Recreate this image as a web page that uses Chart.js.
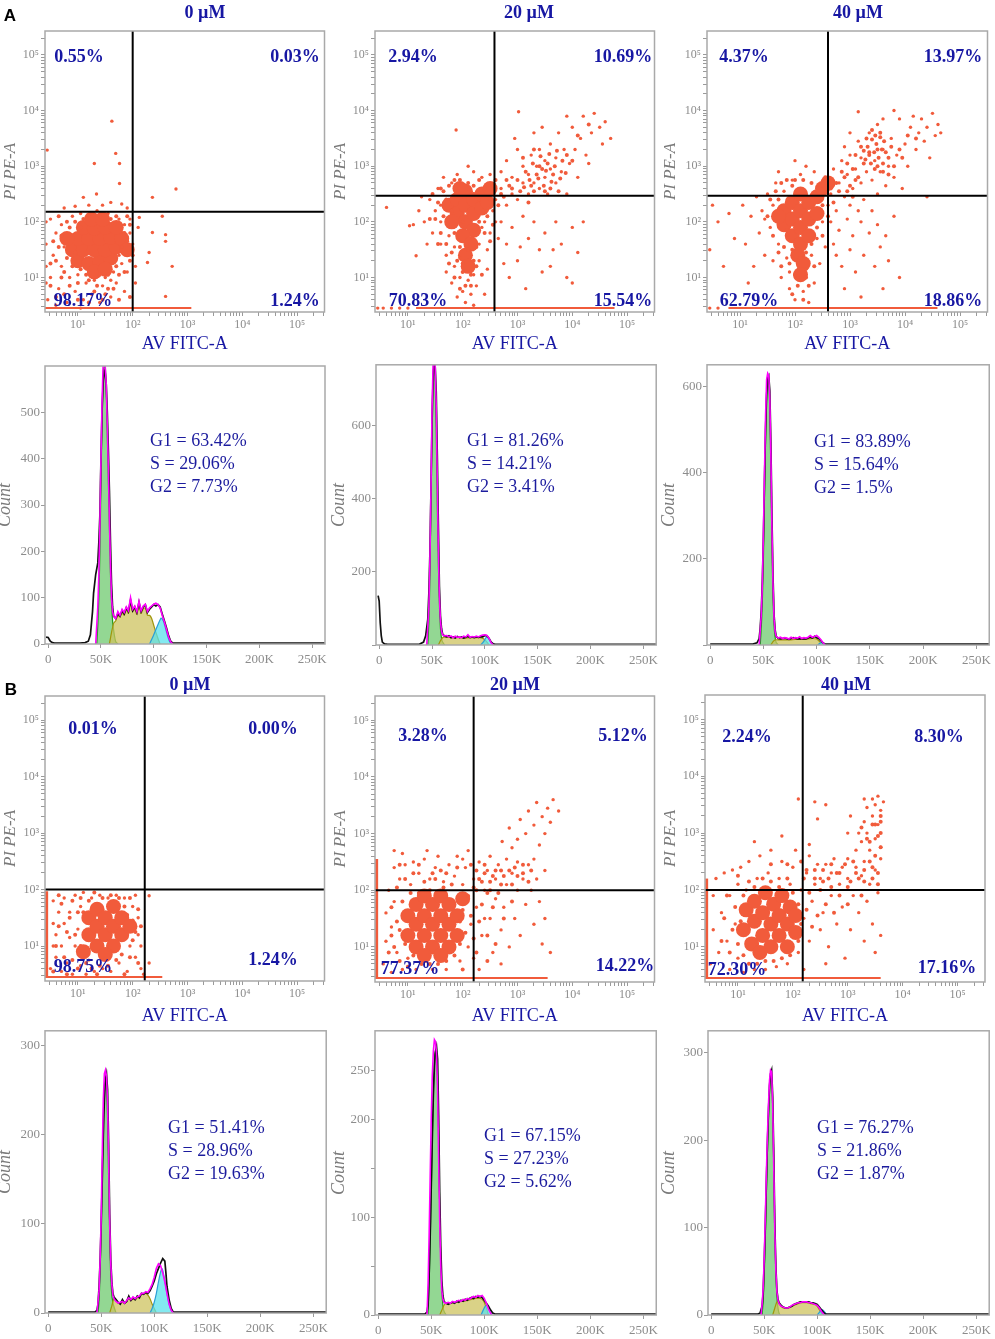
<!DOCTYPE html>
<html>
<head>
<meta charset="utf-8">
<script src="https://cdn.jsdelivr.net/npm/chart.js@4.4.1/dist/chart.umd.min.js"></script>
<style>
  body { margin: 0; background: #fff; width: 995px; height: 1339px; position: relative; overflow: hidden; }
  canvas { position: absolute; }
  .t { position: absolute; transform: translate(-50%, -50%); white-space: nowrap; line-height: 1;
       font-family: 'Liberation Serif', 'Times New Roman', serif; color: #1717a3; }
  .q { font-weight: bold; font-size: 18px; }
  .ph { transform: translate(0, -50%); font-size: 18px; color: #1c1c9e; }
  .tag { font-family: 'Liberation Sans', Arial, sans-serif; font-weight: bold; font-size: 17px; color: #000; }
</style>
</head>
<body>
<script>
const serif = "'Liberation Serif', 'Times New Roman', serif"

// ---------- axis ranges / tick labels ----------
const logRangeX = [0.4, 5.5]
const logRangeY = [0.38, 5.43]
const decadeValues = [10, 100, 1000, 10000, 100000]
const decadeLabels = ['10¹', '10²', '10³', '10⁴', '10⁵']
const minorSteps = [1, 2, 3, 4, 5, 6, 7, 8, 9]
const dnaRange = [-3000, 262144]
const dnaTicks = [0, 50000, 100000, 150000, 200000, 250000]
const dnaTickLabels = ['0', '50K', '100K', '150K', '200K', '250K']

// ---------- titles / labels ----------
const doses = ['0 µM', '20 µM', '40 µM']
const a0Quad = ['0.55%', '0.03%', '98.17%', '1.24%']
const a20Quad = ['2.94%', '10.69%', '70.83%', '15.54%']
const a40Quad = ['4.37%', '13.97%', '62.79%', '18.86%']
const b0Quad = ['0.01%', '0.00%', '98.75%', '1.24%']
const b20Quad = ['3.28%', '5.12%', '77.37%', '14.22%']
const b40Quad = ['2.24%', '8.30%', '72.30%', '17.16%']
const a0Phase = ['G1 = 63.42%', 'S = 29.06%', 'G2 = 7.73%']
const a20Phase = ['G1 = 81.26%', 'S = 14.21%', 'G2 = 3.41%']
const a40Phase = ['G1 = 83.89%', 'S = 15.64%', 'G2 = 1.5%']
const b0Phase = ['G1 = 51.41%', 'S = 28.96%', 'G2 = 19.63%']
const b20Phase = ['G1 = 67.15%', 'S = 27.23%', 'G2 = 5.62%']
const b40Phase = ['G1 = 76.27%', 'S = 21.86%', 'G2 = 1.87%']

// ---------- annexin / PI events, log10 units [AV, PI] ----------
const a0Gate = [2.0, 2.18]
const a0Floor = [0.4, 3.07]
const a0Core = [[1.0,1.3],[1.2,1.25],[1.4,1.3],[1.6,1.35],[0.9,1.5],[1.1,1.5],[1.3,1.5],[1.5,1.5],[1.7,1.55],[1.0,1.7],[1.2,1.7],[1.4,1.7],[1.6,1.72],[1.8,1.7],[1.1,1.9],[1.3,1.88],[1.5,1.9],[1.7,1.9],[1.25,2.05],[1.45,2.05],[1.3,1.1],[1.5,1.15],[0.8,1.7],[1.9,1.5]]
const a0Halo = [[0.6,1.3],[0.65,1.55],[0.7,1.75],[0.75,1.1],[0.8,1.35],[0.85,1.9],[0.85,0.85],[0.9,1.2],[0.95,2.0],[1.0,0.9],[1.05,1.15],[1.1,2.05],[1.15,1.05],[1.2,0.95],[1.25,2.15],[1.35,0.85],[1.4,1.05],[1.4,2.1],[1.55,0.8],[1.55,1.05],[1.6,2.05],[1.7,1.2],[1.7,2.1],[1.75,1.05],[1.8,1.55],[1.85,1.8],[1.85,1.1],[1.9,1.65],[1.95,1.3],[1.95,1.95],[2.0,1.4],[1.65,0.8],[1.5,0.7],[1.3,0.75],[1.0,0.6],[0.8,2.0],[0.65,2.1],[0.55,1.65],[0.5,1.25],[0.5,0.85],[0.95,1.45],[1.05,1.9],[0.7,1.0],[0.75,0.7],[1.2,0.55],[1.75,0.6],[1.95,0.65],[1.9,2.1],[0.6,0.65],[1.45,0.6]]
const a0Dots = [[0.45,0.6],[0.5,1.0],[0.55,1.4],[0.6,1.8],[0.5,2.05],[0.65,0.8],[0.7,1.2],[0.75,1.55],[0.7,1.95],[0.8,0.55],[0.85,1.0],[0.9,2.1],[0.95,0.75],[1.0,1.05],[1.05,2.15],[1.1,0.6],[1.15,0.9],[1.2,2.1],[1.25,0.7],[1.3,0.95],[1.35,2.2],[1.4,0.55],[1.45,0.85],[1.5,1.0],[1.55,2.15],[1.6,0.65],[1.65,1.1],[1.7,0.9],[1.75,2.05],[1.8,1.25],[1.85,0.75],[1.9,1.1],[1.95,1.8],[1.95,2.05],[1.85,1.95],[1.9,1.4],[2.0,1.6],[1.75,1.4],[1.6,0.95],[1.05,0.45],[0.6,0.5],[0.42,1.2],[0.42,1.6],[0.42,0.9],[0.42,2.0],
  [1.62,3.81],[1.69,3.23],[1.76,3.05],[1.3,3.05],[1.76,2.69],[0.44,3.29],[2.79,2.59],[2.36,2.44],[1.1,2.44],[1.34,2.5],[2.54,2.1],[2.12,2.08],[2.36,1.81],[2.6,1.77],[2.6,1.65],[2.3,1.45],[2.27,1.27],[2.72,1.2],[2.6,0.66],[1.45,2.3],[1.6,2.35],[1.8,2.32],[0.95,2.28],[0.75,2.25],[1.2,2.3],[1.9,2.25],[2.1,1.9],[2.05,1.2],[2.05,0.9]]

const a20Gate = [2.58, 2.47]
const a20Floor = [1.15, 4.77]
const a20Core = [[1.75,2.3],[1.9,2.15],[1.9,2.4],[2.05,2.0],[2.05,2.3],[2.05,2.55],[2.2,2.15],[2.2,2.4],[2.35,2.25],[2.35,2.5],[1.8,2.0],[2.2,1.85],[2.0,1.75],[2.15,1.6],[2.05,1.4],[2.1,1.2],[2.45,2.35],[1.95,2.6],[2.5,2.6]]
const a20Halo = [[1.5,2.05],[1.55,2.35],[1.6,1.8],[1.65,2.55],[1.65,2.1],[1.7,1.6],[1.7,2.4],[1.75,1.25],[1.75,2.65],[1.8,1.45],[1.8,2.2],[1.85,1.8],[1.85,2.75],[1.9,1.3],[1.95,1.55],[1.95,2.75],[2.0,1.1],[2.0,2.0],[2.05,0.85],[2.1,1.5],[2.1,2.7],[2.15,1.05],[2.2,1.3],[2.2,2.65],[2.25,1.55],[2.3,2.0],[2.3,2.75],[2.35,1.05],[2.4,1.8],[2.4,2.6],[2.45,2.1],[2.5,1.65],[2.5,2.4],[2.55,2.65],[2.55,1.95],[1.95,0.8],[2.15,0.85],[2.25,1.2],[1.85,1.0],[2.0,1.25],[1.6,2.6],[1.45,2.5],[1.4,2.05],[1.55,1.6],[2.6,2.75],[2.65,2.3],[2.75,2.45],[2.85,2.65],[3.05,2.55],[3.25,2.65],[3.35,2.85],[3.45,2.95],[3.55,3.05],[3.65,2.85],[3.3,3.3],[3.4,3.0],[3.15,2.9],[3.6,2.6],[3.2,2.35],
  [3.22,2.75],[3.28,3.05],[3.38,2.78],[3.42,3.18],[3.48,2.65],[3.52,2.92],[3.58,3.22],[3.62,2.72],[3.68,3.0],[3.72,3.28],[3.78,2.78],[3.82,3.1],[3.88,2.88],[3.3,2.55],[3.5,2.55],[3.75,2.55],[3.12,2.62],[3.0,2.75],[2.9,2.6],[2.8,2.75],[2.7,2.5],[3.1,3.15],[3.9,3.2],[4.0,3.1],[4.1,3.55],[4.3,3.75]]
const a20Dots = [[1.2,2.2],[1.3,2.0],[1.4,2.4],[1.45,1.8],[1.5,2.2],[1.55,2.6],[1.6,1.6],[1.6,2.0],[1.65,2.8],[1.7,1.4],[1.75,1.75],[1.8,2.7],[1.85,1.2],[1.85,1.55],[1.9,2.85],[1.95,1.0],[2.0,0.75],[2.05,0.55],[2.1,0.95],[2.15,0.7],[2.2,1.05],[2.25,0.85],[2.3,1.3],[2.3,1.6],[2.35,1.9],[2.4,2.0],[2.45,1.5],[2.5,1.8],[2.55,2.2],[2.5,2.85],[2.35,2.8],[2.2,2.9],[2.1,3.0],[1.95,1.35],[1.8,0.9],[1.7,1.1],[1.9,0.65],[2.2,0.5],[2.4,0.7],[2.45,1.15],[1.35,1.6],[1.25,2.45],[1.1,1.95],[1.03,1.93],[1.15,1.39],[0.61,2.26],[1.88,3.65],[1.6,2.3],[2.6,2.0],[2.65,1.7],
  [2.6,2.4],[2.7,2.6],[2.7,2.9],[2.8,2.3],[2.8,3.1],[2.9,2.5],[2.9,2.8],[3.0,3.3],[3.0,2.4],[3.1,2.7],[3.1,3.0],[3.2,2.5],[3.2,2.85],[3.25,3.2],[3.3,2.7],[3.35,3.0],[3.4,2.6],[3.4,3.3],[3.5,2.8],[3.5,3.1],[3.55,2.5],[3.6,3.4],[3.6,2.95],[3.7,2.7],[3.7,3.15],[3.75,3.6],[3.8,2.9],[3.85,3.3],[3.9,2.5],[3.95,3.05],[4.0,3.7],[4.05,3.3],[4.1,2.8],[4.15,3.5],[4.2,3.9],[4.25,3.2],[4.35,3.6],[4.4,3.95],[4.5,3.7],[4.55,3.4],[4.6,3.8],[4.7,3.5],[3.02,3.98],[3.3,3.6],[2.95,3.5],[3.45,3.7],[3.9,3.9],[4.3,3.05],
  [2.7,2.0],[2.8,1.6],[2.9,1.9],[3.0,1.3],[3.1,2.1],[3.2,1.7],[3.3,2.0],[3.4,1.5],[3.5,1.8],[3.6,1.2],[3.7,2.0],[3.8,1.6],[3.9,1.0],[4.0,1.9],[4.1,1.45],[2.85,1.0],[3.15,0.8],[3.45,1.1],[3.05,1.55],[2.75,1.25],[3.65,1.5],[4.0,0.9],[4.2,2.0],
  [0.45,0.45],[0.55,0.45],[0.7,0.45],[0.85,0.45],[1.0,0.45]]

const a40Gate = [2.6, 2.47]
const a40Floor = [0.79, 4.59]
const a40Core = [[1.8,2.2],[1.8,1.95],[1.95,2.35],[1.95,2.05],[1.95,1.75],[2.1,2.5],[2.1,2.2],[2.1,1.9],[2.1,1.6],[2.25,2.35],[2.25,2.05],[2.25,1.75],[2.4,2.45],[2.4,2.15],[2.5,2.6],[2.05,1.4],[2.15,1.25],[2.1,1.05],[2.6,2.7],[1.7,2.1]]
const a40Halo = [[1.5,2.1],[1.55,2.4],[1.6,1.75],[1.65,2.55],[1.65,2.15],[1.7,1.45],[1.7,2.4],[1.75,1.2],[1.75,2.7],[1.8,1.55],[1.85,1.85],[1.85,2.75],[1.9,1.25],[1.95,1.5],[1.95,2.65],[2.0,1.05],[2.0,2.75],[2.05,0.85],[2.1,1.35],[2.15,2.75],[2.2,1.0],[2.2,1.45],[2.25,0.85],[2.3,1.6],[2.3,2.7],[2.35,1.2],[2.4,1.9],[2.45,2.65],[2.5,1.75],[2.5,2.3],[2.55,2.8],[2.6,2.1],[2.65,2.6],[2.7,2.35],[2.8,2.55],[2.9,2.8],[3.0,2.65],[3.05,2.95],[3.15,2.8],[3.2,3.35],[3.25,3.05],[3.3,3.5],[3.35,3.25],[3.4,3.65],[3.45,2.95],[3.5,3.3],[3.55,3.6],[3.6,3.05],[3.65,3.25],[3.7,2.85],[3.75,3.35],[3.1,3.2],[2.95,3.05],[2.85,2.9],[1.95,0.7],[2.15,0.6],
  [3.28,3.12],[3.32,3.35],[3.38,3.05],[3.4,3.48],[3.44,3.25],[3.48,3.4],[3.52,3.15],[3.55,3.52],[3.58,3.3],[3.62,3.45],[3.35,3.2],[3.46,3.55],[3.25,3.28],[3.5,3.0],[3.6,2.9],[3.7,3.15],[3.8,3.0],[3.9,3.3],[3.95,3.15],[4.05,3.55],[4.2,3.5],[3.1,2.75],[2.95,2.55],[2.75,2.7],[3.05,2.45]]
const a40Dots = [[0.5,2.3],[0.45,1.5],[0.6,2.0],[0.8,2.15],[0.9,1.7],[1.05,2.3],[1.1,1.6],[1.2,2.1],[1.25,1.2],[1.3,2.45],[1.35,1.8],[1.4,2.2],[1.45,1.4],[1.5,2.5],[1.55,1.9],[1.6,1.3],[1.6,2.3],[1.65,2.7],[1.7,1.6],[1.75,1.0],[1.8,2.55],[1.85,1.35],[1.9,0.8],[1.95,2.75],[2.0,0.6],[2.05,1.0],[2.1,2.85],[2.15,0.75],[2.2,1.15],[2.25,0.55],[2.3,1.4],[2.35,0.9],[2.4,1.7],[2.45,1.25],[2.5,2.0],[2.55,1.55],[2.2,3.0],[2.35,2.9],[1.9,1.1],[1.7,2.9],[1.45,2.05],[2.0,3.1],[0.7,1.2],[1.15,0.9],
  [2.6,2.3],[2.65,2.5],[2.7,2.95],[2.75,2.2],[2.8,2.7],[2.85,3.1],[2.9,2.45],[2.95,2.85],[3.0,2.3],[3.0,3.2],[3.05,2.6],[3.1,2.95],[3.15,3.45],[3.2,2.7],[3.2,3.15],[3.25,2.4],[3.3,2.9],[3.35,3.6],[3.4,2.75],[3.45,3.1],[3.5,3.75],[3.5,2.5],[3.55,2.9],[3.6,3.3],[3.65,2.65],[3.7,3.0],[3.75,3.5],[3.8,2.8],[3.85,3.2],[3.9,3.85],[3.95,2.6],[4.0,3.4],[4.05,3.0],[4.1,3.7],[4.15,3.9],[4.2,3.3],[4.25,3.6],[4.3,3.85],[4.35,3.45],[4.4,3.7],[4.5,3.95],[4.55,3.55],[4.6,3.75],[4.65,3.6],[3.15,3.98],[3.6,3.85],[3.0,3.6],[2.9,3.35],[3.8,4.0],[4.45,3.15],[4.4,2.45],
  [2.65,2.0],[2.7,1.6],[2.8,1.85],[2.85,1.2],[2.95,2.05],[3.0,1.5],[3.05,1.75],[3.1,1.1],[3.2,2.0],[3.25,1.4],[3.35,1.8],[3.45,1.2],[3.5,1.95],[3.55,1.55],[3.65,1.75],[3.7,1.3],[2.9,0.8],[3.2,0.65],[3.6,0.8],[3.9,1.0],[2.75,1.4],[3.4,2.2],[3.8,2.1],[3.15,2.2],
  [0.45,0.45],[0.6,0.45]]

const b0Gate = [2.22, 2.0]
const b0Floor = [0.4, 2.54]
const b0Edge = [0.45, 1.97]
const b0Core = [[1.2,1.2],[1.2,1.5],[1.35,1.0],[1.35,1.35],[1.35,1.65],[1.5,1.2],[1.5,1.5],[1.65,1.0],[1.65,1.35],[1.65,1.7],[1.8,1.2],[1.8,1.5],[1.95,1.35],[1.5,0.85],[1.1,0.9]]
const b0Halo = [[0.6,1.0],[0.65,1.35],[0.7,1.75],[0.75,0.8],[0.8,1.25],[0.85,1.5],[0.9,0.75],[0.9,1.8],[0.95,1.2],[1.0,1.6],[1.0,0.6],[1.05,1.85],[1.05,1.0],[1.1,1.6],[1.15,0.7],[1.2,1.8],[1.25,0.6],[1.3,1.95],[1.4,0.65],[1.45,1.85],[1.55,0.65],[1.6,1.9],[1.7,0.75],[1.75,1.85],[1.8,0.85],[1.85,1.7],[1.9,1.55],[1.95,0.8],[2.0,1.1],[2.0,1.45],[2.05,1.25],[2.1,1.65],[2.1,0.7],[2.15,1.35],[1.95,1.85],[0.55,0.55],[0.65,1.9],[0.8,0.5],[1.35,0.5],[1.85,0.5]]
const b0Dots = [[0.5,0.6],[0.55,1.0],[0.55,1.4],[0.55,1.8],[0.6,0.8],[0.6,1.2],[0.65,1.6],[0.7,0.55],[0.7,1.0],[0.75,1.4],[0.75,1.85],[0.8,0.7],[0.85,1.15],[0.85,1.6],[0.9,0.5],[0.95,1.0],[0.95,1.9],[1.0,1.3],[1.05,0.65],[1.05,1.7],[1.1,1.95],[1.15,0.5],[1.2,0.75],[1.25,1.85],[1.3,0.55],[1.4,1.9],[1.45,0.6],[1.55,1.85],[1.6,0.55],[1.7,1.9],[1.75,0.7],[1.85,1.85],[1.9,0.55],[1.95,1.0],[2.0,1.7],[2.05,0.8],[2.1,1.2],[2.1,1.5],[2.15,0.6],[2.05,1.9],[2.15,1.0],[2.3,1.89],[2.2,0.5],[2.3,0.7]]

const b20Gate = [2.2, 2.0]
const b20Floor = [0.4, 3.55]
const b20Edge = [0.45, 2.55]
const b20Core = [[1.0,1.2],[1.0,1.55],[1.15,1.0],[1.15,1.4],[1.15,1.75],[1.3,1.2],[1.3,1.55],[1.3,1.9],[1.45,1.0],[1.45,1.4],[1.45,1.75],[1.6,1.2],[1.6,1.55],[1.6,1.9],[1.75,1.0],[1.75,1.4],[1.75,1.75],[1.9,1.2],[1.9,1.55],[2.0,1.85],[1.3,0.85],[1.6,0.85]]
const b20Halo = [[0.65,0.9],[0.7,1.2],[0.7,1.7],[0.75,1.0],[0.8,1.45],[0.8,2.05],[0.85,0.75],[0.85,1.3],[0.9,1.8],[0.95,1.05],[0.95,2.2],[1.0,0.65],[1.05,1.95],[1.1,0.85],[1.1,2.3],[1.2,1.95],[1.25,0.7],[1.3,2.15],[1.4,0.7],[1.4,2.0],[1.5,2.2],[1.55,0.7],[1.65,2.05],[1.7,0.75],[1.8,2.1],[1.85,0.85],[1.95,1.05],[1.95,1.45],[2.0,1.65],[2.05,1.25],[2.1,1.9],[2.15,1.55],[2.2,1.15],[2.25,2.0],[2.3,1.45],[2.35,1.75],[2.4,2.3],[2.45,1.2],[2.5,2.0],[2.55,1.7],[2.6,2.35],[2.7,2.1],[2.75,1.5],[2.85,2.35],[2.9,1.8],[3.0,2.25],[3.1,2.45],[3.2,2.15],[1.6,2.35],[1.9,2.4],[2.15,2.45],[2.35,2.15],[2.65,1.95],[2.25,0.9],[2.45,0.75],[2.6,1.05],[2.0,0.6],[1.2,2.45],[0.85,2.45],
  [2.25,2.35],[2.4,2.45],[2.55,2.25],[2.7,2.35],[2.9,2.1],[2.95,2.4],[3.1,2.3],[3.25,2.35],[2.3,2.2],[2.5,2.15],[2.75,2.25],[2.2,2.05],[2.45,1.95],[1.7,2.3],[1.45,2.3]]
const b20Dots = [[0.55,0.7],[0.6,1.1],[0.6,1.6],[0.65,2.0],[0.7,0.55],[0.7,1.35],[0.75,1.8],[0.75,2.4],[0.8,0.9],[0.85,2.2],[0.9,0.6],[0.95,2.45],[1.0,0.8],[1.05,2.1],[1.1,2.5],[1.15,0.6],[1.2,2.3],[1.3,2.55],[1.4,2.2],[1.45,0.6],[1.5,2.4],[1.55,2.6],[1.65,2.15],[1.7,0.6],[1.75,2.45],[1.85,2.25],[1.9,2.6],[1.95,0.75],[2.0,2.1],[2.05,2.4],[2.1,1.0],[2.1,2.7],[2.15,1.4],[2.2,2.2],[2.25,1.7],[2.3,0.6],[2.3,2.5],[2.35,1.2],[2.4,2.0],[2.45,2.35],[2.5,1.5],[2.5,2.6],[2.55,0.9],[2.6,1.85],[2.6,2.2],[2.65,2.45],[2.7,1.3],[2.75,1.7],[2.8,2.1],[2.8,2.55],[2.85,1.0],[2.9,2.3],[2.95,1.5],[3.0,2.0],[3.0,2.5],[3.05,1.2],[3.1,2.2],[3.15,1.75],[3.2,2.45],[3.25,2.0],[3.3,1.4],[3.35,2.2],[3.4,1.8],[3.3,2.55],[3.5,1.5],[3.45,1.05],[3.6,0.9],[3.5,2.35],[2.2,0.8],[2.4,1.5],[2.7,0.7],[2.0,2.55],[1.35,2.7],[0.9,2.65],[0.75,2.7],
  [2.72,2.86],[2.85,3.1],[3.0,2.9],[3.05,3.25],[3.15,3.0],[3.2,3.4],[3.3,3.15],[3.35,3.55],[3.45,3.3],[3.5,3.0],[3.55,3.45],[3.6,3.2],[3.65,3.6],[3.75,3.4],[2.9,2.75],[3.4,2.8]]

const b40Gate = [2.18, 2.0]
const b40Floor = [0.4, 3.6]
const b40Edge = [0.45, 2.2]
const b40Core = [[1.1,1.3],[1.15,1.65],[1.25,1.05],[1.3,1.45],[1.3,1.8],[1.45,1.2],[1.45,1.6],[1.5,1.95],[1.6,1.0],[1.6,1.4],[1.65,1.75],[1.75,1.2],[1.75,1.55],[1.8,1.9],[1.9,1.0],[1.9,1.4],[1.95,1.7],[2.05,1.25],[2.05,1.55],[1.4,0.9]]
const b40Halo = [[0.7,1.1],[0.75,1.5],[0.8,1.9],[0.85,0.9],[0.9,1.3],[0.95,1.7],[1.0,1.05],[1.0,2.25],[1.05,1.45],[1.1,0.85],[1.1,1.9],[1.2,0.7],[1.2,2.15],[1.3,2.05],[1.35,0.7],[1.45,2.2],[1.5,0.75],[1.6,2.15],[1.65,0.75],[1.75,2.05],[1.8,0.8],[1.9,2.2],[1.95,0.85],[2.0,1.95],[2.1,1.1],[2.1,1.75],[2.15,1.4],[2.2,2.2],[2.25,1.65],[2.3,1.95],[2.35,1.35],[2.4,2.35],[2.45,1.55],[2.5,2.0],[2.55,2.35],[2.6,1.75],[2.65,2.2],[2.7,2.45],[2.75,1.6],[2.8,2.3],[2.85,1.9],[2.95,2.45],[3.0,1.75],[3.05,2.15],[3.1,2.5],[3.2,2.2],[3.25,1.9],[3.3,2.35],[3.4,2.5],[3.45,2.2],[3.5,2.6],[3.55,2.3],[3.35,2.9],[3.45,3.15],[3.55,2.95],[3.6,3.2],[3.25,3.1],[1.9,2.45],[1.6,2.45],[2.15,2.5],
  [2.25,2.35],[2.4,2.2],[2.55,2.15],[2.7,2.05],[2.85,2.3],[3.0,2.05],[3.15,2.3],[3.3,2.15],[3.45,2.4],[3.55,2.1],[3.6,2.75],[3.6,3.0],[3.6,3.3],[3.5,3.15],[3.4,2.85]]
const b40Dots = [[0.5,0.7],[0.55,1.3],[0.55,1.9],[0.6,2.2],[0.65,0.9],[0.7,1.6],[0.75,2.3],[0.8,1.1],[0.85,0.6],[0.85,1.9],[0.9,2.35],[0.95,1.4],[1.0,0.8],[1.0,2.1],[1.05,2.4],[1.1,0.55],[1.15,2.0],[1.2,2.5],[1.3,0.6],[1.35,2.2],[1.4,2.6],[1.5,0.6],[1.55,2.3],[1.6,2.7],[1.7,0.65],[1.75,2.2],[1.8,2.5],[1.9,0.7],[1.95,2.1],[2.0,2.4],[2.05,2.7],[2.1,0.9],[2.15,2.0],[2.2,1.5],[2.25,2.3],[2.3,1.1],[2.3,2.6],[2.35,1.8],[2.4,2.1],[2.45,2.45],[2.5,1.3],[2.5,2.2],[2.55,1.6],[2.6,2.45],[2.65,1.0],[2.7,1.9],[2.7,2.3],[2.75,2.55],[2.8,1.4],[2.85,2.1],[2.9,1.7],[2.9,2.4],[2.95,0.8],[3.0,2.2],[3.0,2.55],[3.05,1.3],[3.1,1.9],[3.15,2.4],[3.2,1.6],[3.25,2.25],[3.3,1.1],[3.3,2.5],[3.35,1.8],[3.4,2.1],[3.45,1.4],[3.5,2.35],[3.5,0.9],[3.55,1.95],[3.6,2.55],[3.6,1.2],[2.2,0.6],[2.6,0.7],[1.3,2.85],[1.8,2.95],[2.3,2.8],[2.45,3.25],
  [3.15,2.7],[3.2,3.0],[3.25,2.85],[3.3,3.2],[3.35,3.0],[3.35,3.45],[3.4,2.7],[3.45,3.3],[3.5,3.5],[3.5,2.9],[3.55,3.15],[3.6,3.4],[3.6,2.75],[3.65,3.55],[3.55,3.65],[3.45,3.6],[3.3,3.6],[3.05,3.3],[2.6,3.5],[2.1,3.6],[2.4,3.55],[3.0,3.0]]

// ---------- DNA content histograms, [PI-A in K, count] ----------
const hA0Total = [[-2,15],[0,14],[2,6],[4,3],[6,2],[15,2],[30,2],[35,3],[38,6],[40,20],[42,70],[43,110],[45,150],[47,175],[48,220],[49,280],[50,400],[51,500],[52,560],[53,590],[54,585],[55,560],[56,500],[57,420],[58,330],[59,220],[60,130],[61,80],[62,60],[64,55],[66,65],[68,60],[70,72],[72,65],[74,78],[76,70],[78,95],[80,72],[82,80],[84,68],[86,90],[88,70],[90,80],[92,85],[94,68],[96,75],[98,80],[100,85],[102,82],[104,85],[106,80],[108,65],[110,50],[112,35],[114,18],[116,6],[118,2],[262,2]]
const hA0Fit = [[45,0],[47,80],[48,150],[49,260],[50,400],[51,520],[52,600],[53,610],[54,600],[55,560],[56,470],[57,380],[58,270],[59,170],[60,100],[61,70],[62,60],[64,55],[66,70],[68,62],[70,75],[72,68],[74,80],[76,72],[78,100],[80,75],[82,82],[84,70],[86,92],[88,72],[90,82],[92,86],[94,70],[96,78],[98,82],[100,86],[102,88],[104,85],[106,78],[108,62],[110,48],[112,32],[114,15],[116,5],[118,0]]
const hA0G1 = [[46,0],[47,40],[48,100],[49,200],[50,350],[51,480],[52,580],[53,600],[54,600],[55,550],[56,450],[57,350],[58,250],[59,150],[60,90],[61,50],[62,30],[63,15],[64,5],[66,0]]
const hA0S = [[58,0],[60,25],[62,45],[64,50],[66,62],[68,58],[70,68],[72,62],[74,74],[76,66],[78,88],[80,70],[82,76],[84,64],[86,84],[88,66],[90,76],[92,78],[94,62],[96,62],[98,55],[100,40],[102,25],[104,12],[106,0]]
const hA0G2 = [[96,0],[100,20],[104,42],[107,56],[109,50],[111,35],[113,18],[115,5],[117,0]]

const hA20Total = [[-1,135],[0,120],[1,60],[2,25],[3,8],[5,3],[8,2],[38,2],[42,8],[44,25],[46,70],[47,140],[48,250],[49,420],[50,600],[51,730],[52,765],[53,760],[54,690],[55,520],[56,330],[57,160],[58,80],[59,45],[60,30],[62,24],[64,22],[66,25],[68,20],[70,22],[72,19],[74,23],[76,20],[78,22],[80,19],[82,21],[84,24],[86,20],[88,22],[90,20],[92,22],[94,21],[96,23],[98,22],[100,26],[102,25],[104,18],[106,8],[108,3],[110,2],[262,2]]
const hA20Fit = [[45,0],[47,100],[48,230],[49,420],[50,640],[51,765],[52,780],[53,765],[54,650],[55,450],[56,260],[57,130],[58,65],[59,38],[60,28],[62,25],[64,26],[66,22],[68,25],[70,20],[72,24],[74,21],[76,22],[78,20],[80,24],[82,22],[84,28],[86,21],[88,23],[90,22],[92,24],[94,22],[96,25],[98,27],[100,28],[102,26],[104,18],[106,6],[108,0]]
const hA20G1 = [[46,0],[47,60],[48,180],[49,380],[50,600],[51,740],[52,765],[53,720],[54,580],[55,380],[56,220],[57,110],[58,45],[59,18],[60,8],[62,0]]
const hA20S = [[56,0],[58,12],[60,20],[62,22],[66,21],[70,20],[75,21],[80,19],[85,20],[90,20],[95,20],[98,18],[100,14],[102,8],[104,0]]
const hA20G2 = [[96,0],[99,10],[101,20],[103,21],[105,12],[107,4],[108,0]]

const hA40Total = [[0,2],[40,2],[44,5],[46,15],[47,40],[48,80],[49,150],[50,250],[51,380],[52,500],[53,580],[54,620],[55,625],[56,590],[57,470],[58,300],[59,160],[60,70],[61,35],[62,20],[64,15],[66,14],[70,16],[74,13],[78,17],[82,14],[86,15],[90,14],[94,18],[96,16],[98,20],[100,17],[102,15],[104,10],[106,5],[108,2],[262,2]]
const hA40Fit = [[46,0],[48,70],[49,140],[50,260],[51,400],[52,530],[53,615],[54,630],[55,625],[56,570],[57,440],[58,270],[59,140],[60,60],[61,30],[62,20],[64,16],[66,18],[68,15],[70,17],[72,16],[74,14],[76,18],[78,15],[80,17],[82,16],[84,19],[86,15],[88,17],[90,16],[92,18],[94,22],[96,18],[98,20],[100,22],[102,18],[104,12],[106,5],[108,0]]
const hA40G1 = [[47,0],[48,40],[49,100],[50,200],[51,340],[52,480],[53,580],[54,615],[55,610],[56,540],[57,400],[58,230],[59,110],[60,45],[61,18],[62,6],[64,0]]
const hA40S = [[57,0],[59,8],[61,12],[65,12],[70,12],[75,12],[80,13],[85,13],[90,13],[95,15],[100,14],[102,10],[104,5],[106,0]]
const hA40G2 = [[101,0],[103,4],[105,6],[107,3],[108,0]]

const hB0Total = [[0,1],[44,1],[46,3],[47,10],[48,30],[49,60],[50,100],[51,150],[52,200],[53,240],[54,262],[55,268],[56,250],[57,190],[58,110],[59,60],[60,35],[61,22],[62,18],[64,15],[66,12],[68,10],[70,15],[72,11],[74,13],[76,19],[78,14],[80,17],[82,15],[84,19],[86,17],[88,22],[90,21],[92,23],[94,22],[96,25],[98,30],[100,36],[102,44],[104,50],[106,56],[108,61],[110,58],[111,45],[112,30],[114,15],[116,5],[118,1],[262,1]]
const hB0Fit = [[46,0],[48,25],[49,60],[50,110],[51,180],[52,240],[53,268],[54,272],[55,265],[56,235],[57,170],[58,100],[59,55],[60,32],[61,20],[62,16],[64,13],[66,11],[68,12],[70,13],[72,11],[74,14],[76,17],[78,15],[80,18],[82,16],[84,18],[86,19],[88,22],[90,22],[92,24],[94,23],[96,27],[98,32],[100,40],[102,50],[104,55],[106,53],[108,45],[110,35],[112,22],[114,10],[116,3],[118,0]]
const hB0G1 = [[47,0],[48,15],[49,45],[50,95],[51,160],[52,220],[53,255],[54,260],[55,250],[56,215],[57,150],[58,85],[59,40],[60,20],[61,12],[62,7],[64,0]]
const hB0S = [[58,0],[60,8],[62,16],[64,14],[66,11],[68,11],[70,12],[72,11],[74,13],[76,16],[78,14],[80,16],[82,15],[84,17],[86,19],[88,21],[90,22],[92,22],[94,20],[96,16],[98,10],[100,5],[102,0]]
const hB0G2 = [[96,0],[98,5],[100,12],[102,22],[104,35],[106,46],[107,50],[108,48],[110,36],[112,22],[114,10],[116,3],[118,0]]

const hB20Total = [[0,1],[44,1],[46,3],[47,10],[48,40],[49,80],[50,130],[51,180],[52,225],[53,255],[54,270],[55,275],[56,262],[57,205],[58,125],[59,70],[60,35],[61,20],[62,14],[64,12],[66,11],[68,12],[70,13],[72,12],[74,14],[76,13],[78,15],[80,14],[82,16],[84,15],[86,17],[88,18],[90,17],[92,19],[94,18],[96,19],[98,18],[100,15],[102,12],[104,9],[106,5],[108,2],[110,1],[262,1]]
const hB20Fit = [[46,0],[47,30],[48,80],[49,140],[50,200],[51,245],[52,270],[53,282],[54,280],[55,268],[56,230],[57,160],[58,95],[59,50],[60,25],[61,16],[62,13],[64,12],[66,13],[68,12],[70,14],[72,13],[74,14],[76,15],[78,14],[80,16],[82,15],[84,17],[86,16],[88,18],[90,19],[92,18],[94,20],[96,19],[98,20],[100,17],[102,12],[104,6],[106,2],[107,0]]
const hB20G1 = [[47,0],[48,30],[49,75],[50,125],[51,180],[52,230],[53,262],[54,270],[55,262],[56,235],[57,175],[58,110],[59,55],[60,25],[61,10],[62,4],[64,0]]
const hB20S = [[58,0],[60,5],[62,10],[64,12],[68,12],[72,13],[76,14],[80,14],[84,15],[88,16],[92,17],[96,17],[98,16],[100,13],[102,7],[104,0]]
const hB20G2 = [[97,0],[99,5],[101,9],[103,10],[105,6],[107,0]]

const hB40Total = [[0,1],[44,1],[46,2],[48,10],[49,25],[50,60],[51,100],[52,150],[53,195],[54,232],[55,262],[56,276],[57,280],[58,250],[59,185],[60,105],[61,55],[62,28],[63,18],[64,14],[66,11],[68,9],[70,8],[72,8],[74,9],[76,10],[78,12],[80,13],[82,14],[84,15],[86,15],[88,15],[90,15],[92,15],[94,14],[96,14],[98,13],[100,12],[102,9],[104,6],[106,3],[108,1],[262,1]]
const hB40Fit = [[47,0],[48,12],[49,30],[50,65],[51,110],[52,160],[53,205],[54,240],[55,268],[56,280],[57,278],[58,240],[59,170],[60,95],[61,50],[62,26],[63,17],[64,13],[66,10],[68,9],[70,8],[72,8],[74,9],[76,11],[78,12],[80,13],[82,14],[84,14],[86,15],[88,15],[90,15],[92,14],[94,14],[96,13],[98,12],[100,11],[102,8],[104,4],[106,1],[107,0]]
const hB40G1 = [[48,0],[49,15],[50,45],[51,85],[52,135],[53,185],[54,225],[55,255],[56,270],[57,272],[58,240],[59,175],[60,100],[61,48],[62,20],[63,8],[64,2],[65,0]]
const hB40S = [[58,0],[60,8],[61,12],[62,15],[63,15],[64,13],[66,10],[68,8],[70,8],[74,9],[78,11],[82,13],[86,14],[90,14],[94,13],[98,12],[100,10],[102,6],[104,2],[105,0]]
const hB40G2 = [[100,0],[102,3],[104,6],[106,5],[108,2],[109,0]]

// count axes
const hA0Y = { max: 600, ticks: [0, 100, 200, 300, 400, 500], labels: ['0', '100', '200', '300', '400', '500'] }
const hA20Y = { max: 765, ticks: [0, 200, 400, 600], labels: ['', '200', '400', '600'] }
const hA40Y = { max: 650, ticks: [0, 200, 400, 600], labels: ['', '200', '400', '600'] }
const hB0Y = { max: 316, ticks: [0, 100, 200, 300], labels: ['0', '100', '200', '300'] }
const hB20Y = { max: 291, ticks: [0, 50, 100, 150, 200, 250], labels: ['0', '', '100', '', '200', '250'] }
const hB40Y = { max: 325, ticks: [0, 100, 200, 300], labels: ['0', '100', '200', '300'] }

// ---------- helpers ----------
const framePlugin = {
  id: 'frame',
  afterDatasetsDraw(chart) {
    const { ctx, chartArea: a } = chart
    ctx.save()
    ctx.strokeStyle = '#a9a9a9'
    ctx.lineWidth = 1.5
    ctx.strokeRect(a.left, a.top, a.right - a.left, a.bottom - a.top)
    ctx.restore()
  }
}

function addCanvas([left, top, w, h]) {
  const c = document.createElement('canvas')
  c.width = w
  c.height = h
  c.style.left = left + 'px'
  c.style.top = top + 'px'
  c.style.width = w + 'px'
  c.style.height = h + 'px'
  document.body.appendChild(c)
  return c
}

function addText(text, x, y, cls) {
  const d = document.createElement('div')
  d.className = 't ' + cls
  d.textContent = text
  d.style.left = x + 'px'
  d.style.top = y + 'px'
  document.body.appendChild(d)
}

function logTicks(scale) {
  const ticks = []
  for (let e = 0; e <= 5; e++) {
    for (const m of minorSteps) {
      const v = m * Math.pow(10, e)
      if (v >= scale.min && v <= scale.max) ticks.push({ value: v })
    }
  }
  scale.ticks = ticks
}

const decadeLabel = (v) => {
  const i = decadeValues.indexOf(v)
  return i < 0 ? '' : decadeLabels[i]
}

const toLog = (arr) => arr.map(([x, y]) => ({ x: Math.pow(10, x), y: Math.pow(10, y) }))
const red = '#f15b3b'

function makeScatter(p) {
  const [cl, ct, cw, ch] = p.canvas
  const [bl, bt, br, bb] = p.box
  const yLo = logRangeY[0], yHi = logRangeY[1]
  const datasets = [
    { data: toLog([[p.gate[0], yLo], [p.gate[0], yHi]]), showLine: true, borderColor: '#000', borderWidth: 2, pointRadius: 0 },
    { data: toLog([[logRangeX[0], p.gate[1]], [logRangeX[1], p.gate[1]]]), showLine: true, borderColor: '#000', borderWidth: 2, pointRadius: 0 },
    { data: toLog(p.dots), pointRadius: 1.7, pointBackgroundColor: red, pointBorderWidth: 0 },
    { data: toLog(p.halo), pointRadius: 2, pointBackgroundColor: red, pointBorderWidth: 0 },
    { data: toLog(p.core), pointRadius: 7.5, pointBackgroundColor: red, pointBorderWidth: 0 },
    { data: toLog([[p.floor[0], 0.45], [p.floor[1], 0.45]]), showLine: true, borderColor: red, borderWidth: 2, pointRadius: 0 }
  ]
  if (p.edge) {
    datasets.push({ data: toLog([[0.43, p.edge[0]], [0.43, p.edge[1]]]), showLine: true, borderColor: red, borderWidth: 3, pointRadius: 0 })
  }
  new Chart(addCanvas(p.canvas), {
    type: 'scatter',
    data: { datasets },
    plugins: [framePlugin],
    options: {
      responsive: false,
      animation: false,
      events: [],
      layout: { padding: { top: bt - ct, right: cl + cw - br, left: 0, bottom: 0 } },
      plugins: { legend: { display: false }, tooltip: { enabled: false } },
      scales: {
        x: {
          type: 'logarithmic',
          min: Math.pow(10, logRangeX[0]),
          max: Math.pow(10, logRangeX[1]),
          afterFit: (s) => { s.height = ct + ch - bb },
          afterBuildTicks: logTicks,
          grid: { drawOnChartArea: false, tickLength: 4, color: '#9a9a9a' },
          border: { display: false },
          ticks: { autoSkip: false, maxRotation: 0, padding: 2, color: '#8c8c8c', font: { family: serif, size: 12 }, callback: decadeLabel },
          title: { display: true, text: 'AV FITC-A', color: '#1717a3', font: { family: serif, size: 18, lineHeight: 1 }, padding: { top: 0, bottom: 3 } }
        },
        y: {
          type: 'logarithmic',
          min: Math.pow(10, logRangeY[0]),
          max: Math.pow(10, logRangeY[1]),
          afterFit: (s) => { s.width = bl - cl },
          afterBuildTicks: logTicks,
          grid: { drawOnChartArea: false, tickLength: 4, color: '#9a9a9a' },
          border: { display: false },
          ticks: { autoSkip: false, padding: 2, color: '#8c8c8c', font: { family: serif, size: 12 }, callback: decadeLabel },
          title: { display: true, text: 'PI PE-A', color: '#7a7a7a', font: { family: serif, size: 17, style: 'italic', lineHeight: 1 }, padding: { top: 2, bottom: 0 } }
        }
      }
    }
  })
  p.quad.forEach((txt, i) => addText(txt, p.quadPos[i][0], p.quadPos[i][1], 'q'))
}

const toK = (arr) => arr.map(([k, c]) => ({ x: k * 1000, y: c }))

function makeHist(p) {
  const [cl, ct, cw, ch] = p.canvas
  const [bl, bt, br, bb] = p.box
  const line = (data, color, order, width) => ({ data: toK(data), borderColor: color, borderWidth: width, pointRadius: 0, fill: false, order })
  const area = (data, color, fillColor, order) => ({ data: toK(data), borderColor: color, backgroundColor: fillColor, borderWidth: 1.2, pointRadius: 0, fill: 'origin', order, tension: 0.2 })
  new Chart(addCanvas(p.canvas), {
    type: 'line',
    data: {
      datasets: [
        line(p.fit, '#ff00ff', 0, 1.6),
        line(p.total, '#111111', 1, 1.7),
        area(p.g2, '#2a9fd6', 'rgba(90,225,235,0.75)', 2),
        area(p.s, '#a0960c', 'rgba(205,195,95,0.75)', 3),
        area(p.g1, '#1f9a1f', 'rgba(120,205,120,0.8)', 4)
      ]
    },
    plugins: [framePlugin],
    options: {
      responsive: false,
      animation: false,
      events: [],
      layout: { padding: { top: bt - ct, right: cl + cw - br, left: 0, bottom: 0 } },
      plugins: { legend: { display: false }, tooltip: { enabled: false } },
      scales: {
        x: {
          type: 'linear',
          min: dnaRange[0],
          max: dnaRange[1],
          afterFit: (s) => { s.height = ct + ch - bb },
          afterBuildTicks: (s) => { s.ticks = dnaTicks.map((v) => ({ value: v })) },
          grid: { drawOnChartArea: false, tickLength: 4, color: '#9a9a9a' },
          border: { display: false },
          ticks: { autoSkip: false, maxRotation: 0, padding: 4, color: '#8c8c8c', font: { family: serif, size: 13 },
            callback: (v) => dnaTickLabels[dnaTicks.indexOf(v)] }
        },
        y: {
          type: 'linear',
          min: 0,
          max: p.y.max,
          afterFit: (s) => { s.width = bl - cl },
          afterBuildTicks: (s) => { s.ticks = p.y.ticks.map((v) => ({ value: v })) },
          grid: { drawOnChartArea: false, tickLength: 4, color: '#9a9a9a' },
          border: { display: false },
          ticks: { autoSkip: false, padding: 1, color: '#8c8c8c', font: { family: serif, size: 13 },
            callback: (v) => p.y.labels[p.y.ticks.indexOf(v)] },
          title: { display: true, text: 'Count', color: '#7a7a7a', font: { family: serif, size: 18, style: 'italic', lineHeight: 1 }, padding: { top: 0, bottom: 0 } }
        }
      }
    }
  })
  p.phase.forEach((txt, i) => addText(txt, p.textAt[0], p.textAt[1] + i * 23, 'ph'))
}

// ---------- panels ----------
makeScatter({ canvas: [0, 0, 332, 356], box: [45, 31, 328, 312], gate: a0Gate, floor: a0Floor, dots: a0Dots, halo: a0Halo, core: a0Core,
  quad: a0Quad, quadPos: [[79, 56], [295, 56], [83, 300], [295, 300]] })
makeScatter({ canvas: [330, 0, 332, 356], box: [375, 31, 658, 312], gate: a20Gate, floor: a20Floor, dots: a20Dots, halo: a20Halo, core: a20Core,
  quad: a20Quad, quadPos: [[413, 56], [623, 56], [418, 300], [623, 300]] })
makeScatter({ canvas: [660, 0, 335, 356], box: [707, 31, 988, 312], gate: a40Gate, floor: a40Floor, dots: a40Dots, halo: a40Halo, core: a40Core,
  quad: a40Quad, quadPos: [[744, 56], [953, 56], [749, 300], [953, 300]] })

makeHist({ canvas: [-4, 356, 336, 320], box: [45, 366, 325, 644], y: hA0Y, total: hA0Total, fit: hA0Fit, g1: hA0G1, s: hA0S, g2: hA0G2,
  phase: a0Phase, textAt: [150, 440] })
makeHist({ canvas: [330, 356, 332, 320], box: [376, 363, 658, 645], y: hA20Y, total: hA20Total, fit: hA20Fit, g1: hA20G1, s: hA20S, g2: hA20G2,
  phase: a20Phase, textAt: [467, 440] })
makeHist({ canvas: [660, 356, 335, 320], box: [707, 362, 990, 645], y: hA40Y, total: hA40Total, fit: hA40Fit, g1: hA40G1, s: hA40S, g2: hA40G2,
  phase: a40Phase, textAt: [814, 441] })

makeScatter({ canvas: [0, 670, 332, 358], box: [45, 696, 328, 981], gate: b0Gate, floor: b0Floor, edge: b0Edge, dots: b0Dots, halo: b0Halo, core: b0Core,
  quad: b0Quad, quadPos: [[93, 728], [273, 728], [83, 966], [273, 959]] })
makeScatter({ canvas: [330, 670, 332, 358], box: [375, 696, 657, 982], gate: b20Gate, floor: b20Floor, edge: b20Edge, dots: b20Dots, halo: b20Halo, core: b20Core,
  quad: b20Quad, quadPos: [[423, 735], [623, 735], [410, 968], [625, 965]] })
makeScatter({ canvas: [660, 670, 335, 358], box: [705, 695, 985, 982], gate: b40Gate, floor: b40Floor, edge: b40Edge, dots: b40Dots, halo: b40Halo, core: b40Core,
  quad: b40Quad, quadPos: [[747, 736], [939, 736], [737, 969], [947, 967]] })

makeHist({ canvas: [-4, 1022, 336, 317], box: [45, 1027, 327, 1313], y: hB0Y, total: hB0Total, fit: hB0Fit, g1: hB0G1, s: hB0S, g2: hB0G2,
  phase: b0Phase, textAt: [168, 1127] })
makeHist({ canvas: [330, 1022, 332, 317], box: [375, 1029, 658, 1315], y: hB20Y, total: hB20Total, fit: hB20Fit, g1: hB20G1, s: hB20S, g2: hB20G2,
  phase: b20Phase, textAt: [484, 1135] })
makeHist({ canvas: [660, 1022, 335, 317], box: [708, 1030, 990, 1315], y: hB40Y, total: hB40Total, fit: hB40Fit, g1: hB40G1, s: hB40S, g2: hB40G2,
  phase: b40Phase, textAt: [817, 1127] })

// panel titles and tags
const titleA = [[205, 12], [529, 12], [858, 12]]
const titleB = [[190, 684], [515, 684], [846, 684]]
doses.forEach((d, i) => {
  addText(d, titleA[i][0], titleA[i][1], 'q')
  addText(d, titleB[i][0], titleB[i][1], 'q')
})
addText('A', 10, 15, 'tag')
addText('B', 11, 689, 'tag')
</script>
</body>
</html>
